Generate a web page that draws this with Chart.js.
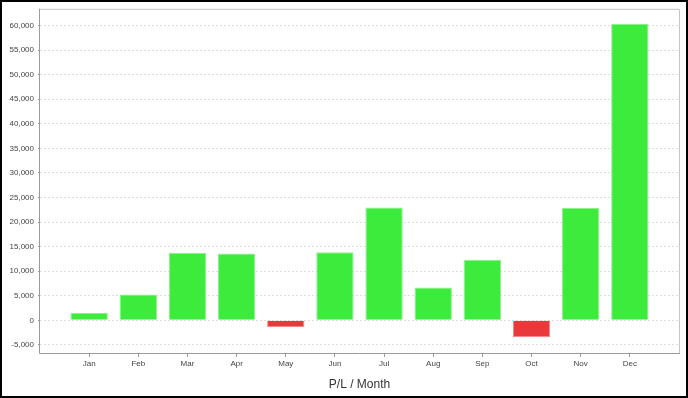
<!DOCTYPE html>
<html>
<head>
<meta charset="utf-8">
<script src="https://cdn.jsdelivr.net/npm/chart.js@4"></script>
<style>
  body { margin: 0; background: #fff; }
  canvas { display: block; }
</style>
</head>
<body>
<canvas id="plChart" width="688" height="398"></canvas>
<script>
// P/L per month
const months = ['Jan', 'Feb', 'Mar', 'Apr', 'May', 'Jun', 'Jul', 'Aug', 'Sep', 'Oct', 'Nov', 'Dec'];
const profit = [1550, 5250, 13750, 13600, -1350, 13850, 22950, 6700, 12350, -3450, 22850, 60350];
const yTicks = [-5000, 0, 5000, 10000, 15000, 20000, 25000, 30000, 35000, 40000, 45000, 50000, 55000, 60000];

// empty slot on each side, like the original axis
const labels = [''].concat(months, ['']);
const values = [null].concat(profit, [null]);

const frame = {
  id: 'frame',
  beforeDatasetsDraw(chart) {
    const ctx = chart.ctx;
    const a = chart.chartArea;
    ctx.save();
    ctx.lineWidth = 1;
    ctx.strokeStyle = '#c4c4c4';
    ctx.beginPath();
    ctx.moveTo(a.left, a.top + 0.5);
    ctx.lineTo(a.right + 0.5, a.top + 0.5);
    ctx.lineTo(a.right + 0.5, a.bottom);
    ctx.stroke();
    ctx.strokeStyle = '#9a9a9a';
    ctx.beginPath();
    ctx.moveTo(a.left - 0.5, a.top);
    ctx.lineTo(a.left - 0.5, a.bottom + 0.5);
    ctx.lineTo(a.right + 1, a.bottom + 0.5);
    ctx.stroke();
    ctx.restore();
  },
  afterDraw(chart) {
    const ctx = chart.ctx;
    ctx.save();
    ctx.lineWidth = 2;
    ctx.strokeStyle = '#000';
    ctx.strokeRect(1, 1, chart.width - 2, chart.height - 2);
    ctx.restore();
  }
};

const ctx = document.getElementById('plChart').getContext('2d');
new Chart(ctx, {
  type: 'bar',
  data: {
    labels: labels,
    datasets: [{
      data: values,
      backgroundColor: values.map(v => v < 0 ? '#ea393d' : '#3deb3d'),
      borderColor: values.map(v => v < 0 ? '#f08a8c' : '#8cf08c'),
      borderWidth: 1,
      borderSkipped: 'start',
      barPercentage: 0.76,
      categoryPercentage: 1
    }]
  },
  options: {
    responsive: false,
    animation: false,
    layout: { padding: { top: 7, right: 9, left: 0, bottom: 0 } },
    plugins: {
      legend: { display: false },
      tooltip: { enabled: false }
    },
    scales: {
      x: {
        offset: false,
        border: { display: false },
        grid: {
          offset: false,
          drawOnChartArea: false,
          tickLength: 4,
          color: ctx => (ctx.index === 0 || ctx.index === labels.length - 1) ? 'rgba(0,0,0,0)' : '#9a9a9a'
        },
        ticks: {
          autoSkip: false,
          maxRotation: 0,
          padding: 2,
          color: '#444',
          font: { family: 'Liberation Sans', size: 8 }
        },
        title: {
          display: true,
          text: 'P/L / Month',
          color: '#333',
          font: { family: 'Liberation Sans', size: 12 },
          padding: { top: 6, bottom: 6 }
        },
        afterFit: s => { s.height = 45; }
      },
      y: {
        min: -6650,
        max: 63400,
        border: { display: false, dash: [2, 2] },
        grid: {
          color: '#dcdcdc',
          tickLength: 2,
          tickColor: '#9a9a9a'
        },
        ticks: {
          padding: 4,
          color: '#444',
          font: { family: 'Liberation Sans', size: 8 },
          callback: v => v.toLocaleString('en-US')
        },
        afterBuildTicks: s => { s.ticks = yTicks.map(v => ({ value: v })); },
        afterFit: s => { s.width = 40; }
      }
    }
  },
  plugins: [frame]
});
</script>
</body>
</html>
